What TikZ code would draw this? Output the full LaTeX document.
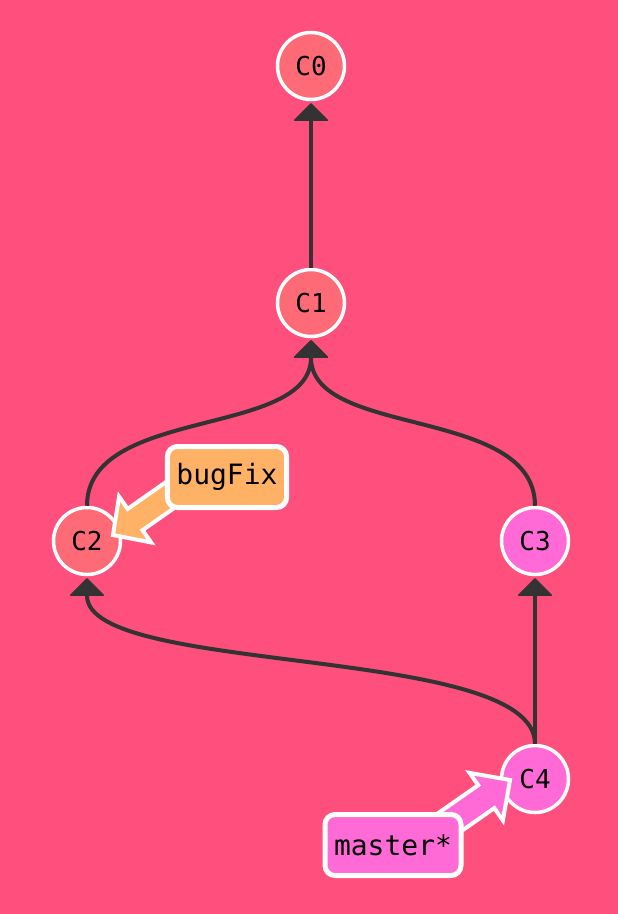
\documentclass[tikz,border=0pt]{standalone}
\usepackage{fontspec}
\setmonofont{DejaVu Sans Mono}
\usetikzlibrary{arrows.meta,calc}
\definecolor{bgc}{RGB}{255,79,124}
\definecolor{cred}{RGB}{254,106,118}
\definecolor{cpink}{RGB}{255,106,214}
\definecolor{corange}{RGB}{255,178,102}
\definecolor{edgec}{RGB}{51,51,51}
\begin{document}
\begin{tikzpicture}[x=1pt,y=-1pt,
  commit/.style={circle, draw=white, line width=3.5pt, minimum size=67pt, inner sep=0pt,
    font=\ttfamily\fontsize{26}{26}\selectfont},
  redc/.style={commit, fill=cred},
  pinkc/.style={commit, fill=cpink},
  branchbox/.style={rectangle, rounded corners=10pt, draw=white, line width=5pt,
    minimum height=61pt, inner xsep=9pt, font=\ttfamily\fontsize{28}{28}\selectfont},
  edge/.style={draw=edgec, line width=4pt, -{Triangle[width=36pt,length=18pt,line width=1.5pt,round]}, shorten >=2pt},
  barrow/.style={draw=white, line width=4pt, line join=miter},
]
\useasboundingbox (0,0) rectangle (618,914);
\fill[bgc] (0,0) rectangle (618,914);

\node[redc] (C0) at (311,66) {C0};
\node[redc] (C1) at (311,303) {C1};
\node[redc] (C2) at (87,541) {C2};
\node[pinkc] (C3) at (535,541) {C3};
\node[pinkc] (C4) at (535,779) {C4};

\draw[edge] (C1.north) -- (C0.south);
\draw[edge] (C2.north) .. controls +(0,-100) and +(0,100) .. (C1.south);
\draw[edge] (C3.north) .. controls +(0,-100) and +(0,100) .. (C1.south);
\draw[edge] (C4.north) .. controls +(0,-100) and +(0,100) .. (C2.south);
\draw[edge] (C4.north) -- (C3.south);

% bugFix arrow
\coordinate (bfT) at ($(C2.center)+(26,-6)$);
\coordinate (bfS) at ($(bfT)+(90,-63)$);
\coordinate (bfB) at ($(bfT)!27pt!(bfS)$);
\filldraw[barrow, fill=corange] (bfT) -- ($(bfB)!28pt!90:(bfT)$) -- ($(bfB)!13pt!90:(bfT)$)
  -- ($(bfS)!13pt!90:(bfT)$) -- ($(bfS)!13pt!-90:(bfT)$) -- ($(bfB)!13pt!-90:(bfT)$)
  -- ($(bfB)!28pt!-90:(bfT)$) -- cycle;

% master arrow
\coordinate (mT) at ($(C4.center)+(-25,1)$);
\coordinate (mS) at ($(mT)+(-90,63)$);
\coordinate (mB) at ($(mT)!29pt!(mS)$);
\filldraw[barrow, fill=cpink] (mT) -- ($(mB)!29pt!90:(mT)$) -- ($(mB)!14pt!90:(mT)$)
  -- ($(mS)!14pt!90:(mT)$) -- ($(mS)!14pt!-90:(mT)$) -- ($(mB)!14pt!-90:(mT)$)
  -- ($(mB)!29pt!-90:(mT)$) -- cycle;

\node[branchbox, fill=corange] (bugFix) at (227,477) {bugFix};
\node[branchbox, fill=cpink] (master) at (393,845) {master*};
\end{tikzpicture}
\end{document}
